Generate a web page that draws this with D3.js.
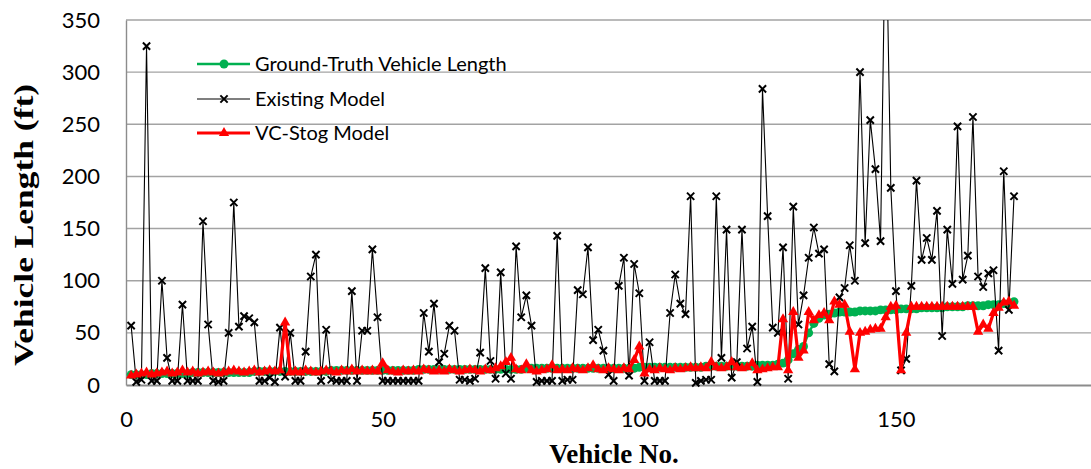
<!DOCTYPE html>
<html>
<head>
<meta charset="utf-8">
<script src="https://cdn.jsdelivr.net/npm/d3@7"></script>
<style>
  html, body { margin: 0; padding: 0; background: #fff; }
  svg { display: block; }
</style>
</head>
<body>
<svg id="chart" width="1091" height="469"></svg>
<script>
// Vehicles, ordered by ground-truth length
const vehicleNo = d3.range(1, 174);

const groundTruth = [
  10,10,10,10,11,11,11,11,11,11,
  11,11,12,12,12,12,12,12,12,12,
  12,12,12,12,13,13,13,13,13,13,
  13,13,13,13,13,13,13,13,13,14,
  14,14,14,14,14,14,14,14,14,14,
  14,14,14,14,14,14,15,15,15,15,
  15,15,15,15,15,15,15,15,15,15,
  15,15,15,15,15,15,15,16,16,16,
  16,16,16,16,16,16,16,16,16,16,
  16,16,16,16,16,16,16,16,16,17,
  17,17,17,17,17,17,17,17,17,17,
  17,17,18,18,18,18,18,18,18,18,
  18,18,19,19,19,19,20,21,24,30,
  34,37,50,59,64,67,68,69,70,70,
  70,70,71,71,71,71,72,72,72,72,
  73,73,73,73,74,74,74,74,74,75,
  75,75,75,76,76,76,76,77,77,77,
  78,78,80
];

const existingModel = [
  57,3,5,325,4,4,100,26,4,4,
  77,4,4,4,157,58,4,3,4,50,
  175,56,66,64,60,4,4,7,3,55,
  8,50,4,4,32,104,125,4,53,5,
  4,4,4,90,4,52,52,130,65,4,
  4,4,4,4,4,4,4,69,32,78,
  22,30,57,52,5,5,4,6,31,112,
  23,6,108,11,6,133,65,86,57,3,
  4,4,4,143,4,5,5,91,87,132,
  43,53,33,10,4,95,122,9,116,88,
  4,41,4,4,4,69,106,78,68,181,
  2,4,5,5,181,26,149,7,22,149,
  35,56,3,284,162,55,50,132,6,171,
  58,86,122,151,126,130,20,13,84,93,
  134,100,300,136,254,207,138,470,189,90,
  14,25,95,196,120,141,120,167,47,149,
  97,248,101,124,257,104,94,107,110,33,
  205,72,181
];

const vcStogModel = [
  9,10,11,12,10,11,12,13,11,12,
  14,12,13,11,12,13,12,11,12,13,
  14,13,12,13,14,12,13,14,13,14,
  60,12,13,12,14,13,12,13,14,13,
  12,14,13,15,13,14,13,14,13,21,
  14,13,12,14,13,14,13,15,14,13,
  14,13,15,14,13,14,15,14,13,15,
  14,16,18,22,26,15,14,20,14,13,
  14,15,19,14,15,14,16,15,14,16,
  19,15,14,16,15,14,16,15,24,37,
  11,15,14,16,15,14,16,15,16,17,
  16,17,16,22,17,16,17,22,17,16,
  17,21,14,15,16,17,17,63,14,70,
  26,33,70,62,67,69,62,80,77,77,
  51,15,50,51,53,54,54,65,75,76,
  14,50,75,75,75,75,75,75,75,75,
  75,75,75,75,75,51,58,54,69,74,
  79,80,76
];

const xTicks = [0, 50, 100, 150];
const yTicks = [0, 50, 100, 150, 200, 250, 300, 350];

const seriesNames = ["Ground-Truth Vehicle Length", "Existing Model", "VC-Stog Model"];

const svg = d3.select("#chart");
const W = 1091, H = 469;
const plot = { left: 126, top: 20, bottom: 385 };

const x = d3.scaleLinear().domain([0, 200]).range([plot.left, plot.left + 200 * 5.133]);
const y = d3.scaleLinear().domain([0, 350]).range([plot.bottom, plot.top]);

const tickFont = "Lato, 'Open Sans', sans-serif";
const titleFont = "'Liberation Serif', 'Times New Roman', serif";

// Horizontal gridlines
svg.append("g")
  .selectAll("line")
  .data(yTicks.filter(d => d > 0))
  .join("line")
  .attr("x1", plot.left).attr("x2", W)
  .attr("y1", d => y(d)).attr("y2", d => y(d))
  .attr("stroke", "#a3a3a3").attr("stroke-width", 1.4);

// Y axis
const yAxis = svg.append("g")
  .attr("transform", `translate(${plot.left},0)`)
  .call(d3.axisLeft(y).tickValues(yTicks).tickSize(0).tickPadding(26));
yAxis.select(".domain").attr("stroke", "#8c8c8c").attr("stroke-width", 1.4);
yAxis.selectAll("text")
  .attr("font-family", tickFont).attr("font-size", 22).attr("fill", "#000");

// X axis (the plot area runs past the right edge of the figure)
const xAxis = svg.append("g")
  .attr("transform", `translate(0,${plot.bottom})`)
  .call(d3.axisBottom(x).tickValues(xTicks).tickSize(0).tickPadding(26));
xAxis.select(".domain").attr("stroke", "#8c8c8c").attr("stroke-width", 2.2);
xAxis.selectAll("text")
  .attr("font-family", tickFont).attr("font-size", 22).attr("fill", "#000");

// Axis titles
svg.append("text")
  .attr("transform", `translate(33,225) rotate(-90)`)
  .attr("text-anchor", "middle")
  .attr("font-family", titleFont).attr("font-weight", "bold")
  .attr("font-size", 27)
  .attr("textLength", 282).attr("lengthAdjust", "spacingAndGlyphs")
  .text("Vehicle Length (ft)");

svg.append("text")
  .attr("x", 614).attr("y", 463)
  .attr("text-anchor", "middle")
  .attr("font-family", titleFont).attr("font-weight", "bold")
  .attr("font-size", 27)
  .text("Vehicle No.");

// Series
svg.append("clipPath").attr("id", "plot-clip")
  .append("rect")
  .attr("x", plot.left).attr("y", plot.top)
  .attr("width", W - plot.left).attr("height", plot.bottom - plot.top + 6);

const layer = svg.append("g").attr("clip-path", "url(#plot-clip)");

const series = [
  { name: seriesNames[0], values: groundTruth, color: "#00b050", width: 2.4,
    symbol: d3.symbolCircle, size: 62, fill: "#00b050", stroke: "none", sw: 0 },
  { name: seriesNames[1], values: existingModel, color: "#000000", width: 1.1,
    symbol: d3.symbolTimes, size: 36, fill: "none", stroke: "#000", sw: 2 },
  { name: seriesNames[2], values: vcStogModel, color: "#ff0000", width: 3.2,
    symbol: d3.symbolTriangle, size: 46, fill: "#ff0000", stroke: "none", sw: 0 }
];

const line = d3.line()
  .x((d, i) => x(vehicleNo[i]))
  .y(d => y(d));

series.forEach(s => {
  const g = layer.append("g");
  g.append("path")
    .datum(s.values)
    .attr("fill", "none")
    .attr("stroke", s.color)
    .attr("stroke-width", s.width)
    .attr("stroke-linejoin", "round")
    .attr("d", line);
  g.selectAll("path.mark")
    .data(s.values)
    .join("path")
    .attr("class", "mark")
    .attr("transform", (d, i) => `translate(${x(vehicleNo[i])},${y(d)})`)
    .attr("d", d3.symbol().type(s.symbol).size(s.size))
    .attr("fill", s.fill)
    .attr("stroke", s.stroke)
    .attr("stroke-width", s.sw);
});

// Legend
const legend = svg.append("g");
const legendRows = [64, 99, 133];
series.forEach((s, i) => {
  const row = legend.append("g").attr("transform", `translate(0,${legendRows[i]})`);
  row.append("line")
    .attr("x1", 197).attr("x2", 250).attr("y1", 0).attr("y2", 0)
    .attr("stroke", s.color).attr("stroke-width", s.width);
  row.append("path")
    .attr("transform", "translate(224,0)")
    .attr("d", d3.symbol().type(s.symbol).size(s.size)())
    .attr("fill", s.fill).attr("stroke", s.stroke).attr("stroke-width", s.sw);
  row.append("text")
    .attr("x", 255).attr("y", 0).attr("dy", "0.35em")
    .attr("font-family", tickFont).attr("font-size", 20)
    .text(s.name);
});
</script>
</body>
</html>
